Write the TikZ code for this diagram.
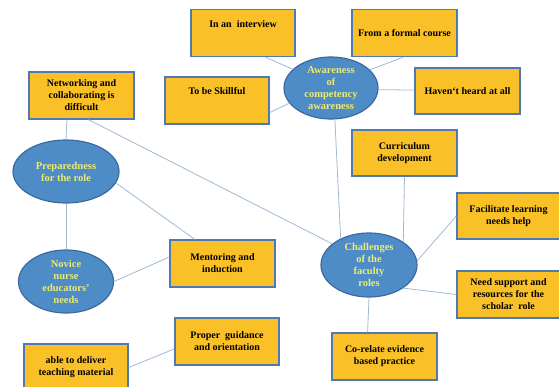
\documentclass[tikz,border=0pt]{standalone}
\usepackage{fontspec}
\setmainfont{Liberation Serif}
\usetikzlibrary{shapes.geometric,calc}
\definecolor{boxfill}{RGB}{250,192,40}
\definecolor{boxline}{RGB}{79,120,180}
\definecolor{ellfill}{RGB}{78,140,200}
\definecolor{ellline}{RGB}{60,105,160}
\definecolor{elltext}{RGB}{238,235,110}
\definecolor{connc}{RGB}{160,185,215}
\begin{document}
\begin{tikzpicture}[x=1pt,y=-1pt,
 box/.style={draw=boxline, line width=1.3pt, fill=boxfill, minimum width=104pt, minimum height=47pt, inner sep=1pt, align=center, font=\fontsize{10}{12}\selectfont\bfseries},
 boxtext/.style={inner sep=0pt, align=center, font=\fontsize{10}{12}\selectfont\bfseries},
 oval/.style={ellipse, draw=ellline, line width=1.2pt, fill=ellfill, inner sep=0pt, align=center, text=elltext, font=\fontsize{10.5}{12}\selectfont\bfseries},
 conn/.style={draw=connc, line width=0.8pt}]
\useasboundingbox (0,0) rectangle (559,387);
\clip (0,0) rectangle (559,387);
% boxes
\node[box] (interview) at (243,33) {};
\node[boxtext] (interviewt) at ($(interview.north)+(0,15)$) {In an\ \ interview};
\node[box, minimum width=105pt] (formal) at (404.5,33) {From a formal course};
\node[box, minimum width=105pt, minimum height=46pt] (havent) at (467.5,91) {Haven`t heard at all};
\node[box] (skill) at (217,100.5) {};
\node[boxtext] (skillt) at ($(skill.north)+(0,15)$) {To be Skillful};
\node[box, minimum width=105pt] (net) at (81.5,95.5) {Networking and\\collaborating is\\difficult};
\node[box, minimum width=105pt, minimum height=46pt] (curr) at (404.5,153) {Curriculum\\development};
\node[box, minimum width=105pt] (ment) at (222.5,263.5) {Mentoring and\\induction};
\node[box] (proper) at (227,341.5) {Proper\ \ guidance\\and orientation};
\node[box, minimum height=47pt] (able) at (76,367.5) {able to deliver\\teaching material};
\node[box, minimum width=103pt, minimum height=46pt] (facil) at (508.5,216) {Facilitate learning\\needs help};
\node[box, minimum width=103pt] (supp) at (508.5,294.5) {Need support and\\resources for the\\scholar\ \ role};
\node[box, minimum width=105pt] (corel) at (384.5,356.5) {Co-relate evidence\\based practice};
% ellipses
\node[oval, minimum width=94pt, minimum height=62pt] (aw) at (331,88) {Awareness\\of\\competency\\awareness};
\node[oval, minimum width=106pt, minimum height=63pt] (prep) at (66,171.5) {Preparedness\\for the role};
\node[oval, minimum width=95pt, minimum height=63pt] (nov) at (66,281.5) {Novice\\nurse\\educators'\\needs};
\node[oval, minimum width=96pt, minimum height=64pt] (chal) at (369,265) {Challenges\\of the\\faculty\\roles};
% connectors
\draw[conn] (interview.-47.5) -- (aw.154.7);
\draw[conn] (skill.-13.5) -- (aw.200);
\draw[conn] (formal.-93.6) -- (aw.25);
\draw[conn] (aw.-2) -- (havent.179);
\draw[conn] (aw.-83) -- (chal.137);
\draw[conn] (curr.south) -- (chal.34);
\draw[conn] (facil.west) -- (chal.5);
\draw[conn] (supp.west) -- (chal.-34);
\draw[conn] (chal.south) -- (corel.125);
\draw[conn] (net.-74.5) -- (chal.150);
\draw[conn] (net.-121.7) -- (prep.north);
\draw[conn] (prep.south) -- (nov.north);
\draw[conn] (prep.-13) -- (ment.139.5);
\draw[conn] (nov.east) -- (ment.173);
\draw[conn] (proper.188) -- (able.east);
\end{tikzpicture}
\end{document}
